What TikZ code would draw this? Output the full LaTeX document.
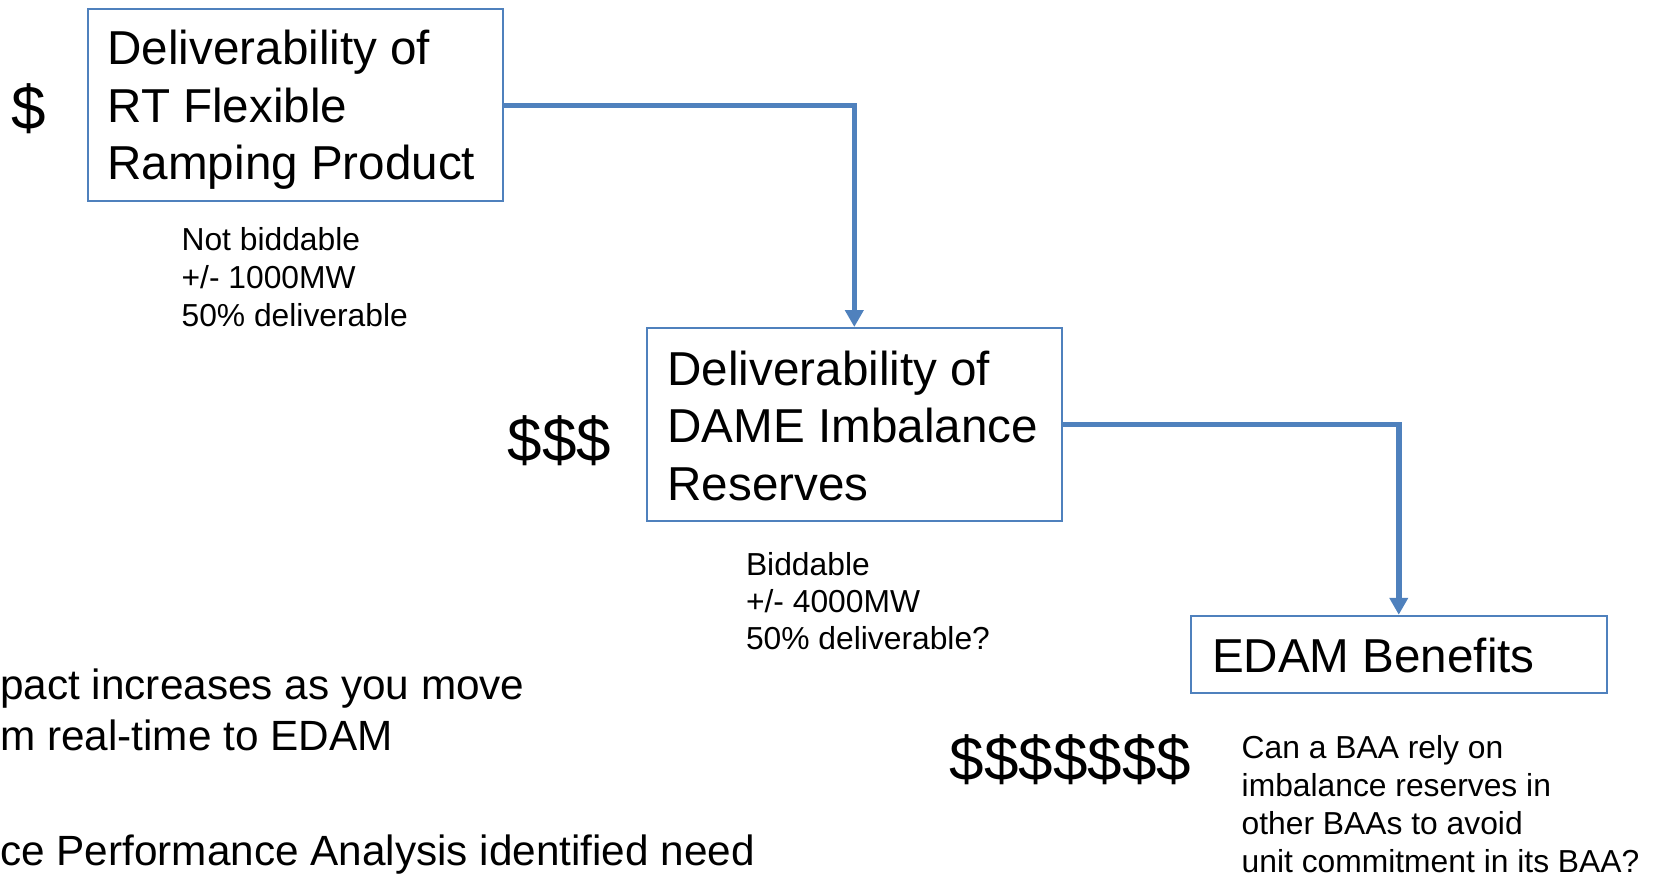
\documentclass[tikz,border=0pt]{standalone}
\usepackage{fontspec}
\setmainfont{Liberation Sans}
\usepackage{tikz}
\usetikzlibrary{arrows.meta,positioning,calc}
\definecolor{boxblue}{RGB}{79,129,189}
\newcommand{\plainspace}{\spaceskip=0pt\xspaceskip=0pt\relax}
\tikzset{every node/.style={execute at begin node=\plainspace},
         flowbox/.style={draw=boxblue, line width=2pt, inner xsep=20pt, inner ysep=0pt, align=left, text width=373.5pt, minimum width=415.5pt, font=\fontsize{47.6}{57.5}\selectfont},
         notetext/.style={anchor=base west, inner sep=0pt, align=left, text width=500pt, font=\fontsize{31.8}{38}\selectfont},
         costtext/.style={inner sep=0pt, font=\fontsize{62}{70}\selectfont},
         sidetext/.style={anchor=base west, inner sep=0pt, align=left, text width=800pt, font=\fontsize{42.3}{50.7}\selectfont},
         arrowline/.style={draw=boxblue, line width=5.5pt, -{Triangle[width=18pt,length=17pt]}}}

\begin{document}
\begin{tikzpicture}[x=1pt,y=-1pt]
\useasboundingbox (0,0) rectangle (1654,877);

\node[flowbox, text width=375.5pt, text height=55.5pt, text depth=136.5pt] (rtbox) at (295.25,105.5) {Deliverability of\\RT Flexible\\Ramping Product};
\node[flowbox, inner xsep=21pt, text height=57.2pt, text depth=135.8pt] (damebox) at (854.3,424.5) {Deliverability of\\DAME Imbalance\\Reserves};
\node[flowbox, inner xsep=21pt, text height=56.8pt, text depth=20.7pt] (edambox) at (1398.75,654.5) {EDAM Benefits};

\node[costtext] (rtcost) at (28.3,108.3) {\$};
\node[costtext] (damecost) at (559.5,441) {\$\$\$};
\node[costtext] (edamcost) at (1070.5,760) {\$\$\$\$\$\$\$};

\node[notetext] (rtnote) at (181.4,250.7) {Not biddable\\+/- 1000MW\\50\% deliverable};
\node[notetext, font=\fontsize{31.8}{37}\selectfont] (damenote) at (745.8,575) {Biddable\\+/- 4000MW\\50\% deliverable?};
\node[notetext] (edamnote) at (1241.5,758.3) {Can a BAA rely on\\imbalance reserves in\\other BAAs to avoid\\unit commitment in its BAA?};

\node[sidetext] (impact) at (0,699.3) {pact increases as you move\\m real-time to EDAM};
\node[sidetext] (perf) at (0,865) {ce Performance Analysis identified need};

\draw[arrowline] (rtbox.east) -| (damebox.north);
\draw[arrowline] (damebox.east) -| (edambox.north);

\end{tikzpicture}
\end{document}
